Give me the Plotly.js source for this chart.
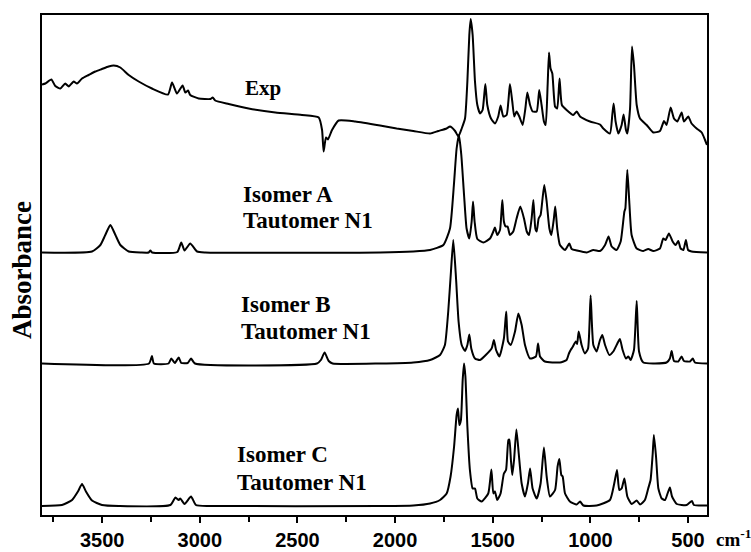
<!DOCTYPE html>
<html>
<head>
<meta charset="utf-8">
<script src="https://cdn.plot.ly/plotly-3.0.1.min.js"></script>
<style>html,body{margin:0;padding:0;background:#fff;}#chart{width:751px;height:552px;}</style>
</head>
<body>
<div id="chart"></div>
<script>
// Wavenumbers (cm-1) and offset absorbance
const expWn = [3808,3791,3760,3740,3714,3689,3671,3646,3629,3603,3569,3535,3501,3467,3441,3407,3364,3313,3245,3163,3142,3117,3088,3074,3060,3049,3006,2946,2934,2921,2852,2750,2613,2477,2391,2374,2366,2354,2344,2323,2289,2204,2077,1992,1907,1821,1779,1736,1719,1693,1676,1659,1642,1630,1620,1613,1603,1591,1579,1565,1552,1538,1528,1509,1489,1472,1460,1446,1429,1412,1400,1390,1378,1364,1347,1333,1323,1309,1296,1275,1262,1250,1238,1229,1219,1212,1204,1195,1181,1170,1158,1146,1122,1088,1070,1053,1002,951,934,900,888,881,871,857,840,830,818,811,797,787,777,763,746,712,678,644,623,610,589,572,555,533,521,499,482,456,430,413,403];
const expAbs = [86.1,86.3,87.1,85.8,85.3,86.3,85.7,86.7,86.3,87.3,88.0,88.7,89.2,89.7,89.9,89.5,88.0,86.7,85.3,84.1,86.5,84.3,85.9,84.5,84.9,84.0,83.3,83.2,83.5,82.9,82.2,81.3,80.5,80.0,79.5,77.0,72.7,75.5,75.1,77.0,78.9,78.7,77.9,77.3,76.8,76.3,76.8,77.3,77.7,76.8,75.7,77.3,79.3,86.7,96.0,99.2,96.0,86.7,82.0,80.3,81.0,86.2,82.0,79.3,78.3,79.7,81.9,79.7,80.0,86.2,82.7,79.7,80.7,79.7,78.0,81.3,84.5,82.0,80.7,80.7,85.0,82.0,78.7,78.0,86.0,92.5,89.3,88.3,81.7,81.3,87.3,82.0,81.0,80.0,80.7,79.7,78.7,78.1,77.3,76.3,80.0,82.3,78.7,76.3,78.0,80.1,77.0,76.3,81.3,93.7,90.0,82.0,79.3,78.0,76.5,76.8,78.8,78.0,81.5,79.3,78.7,80.5,78.7,79.7,78.3,77.3,76.5,75.0,74.0];

const isoAWn = [3808,3552,3509,3484,3458,3432,3407,3364,3300,3262,3253,3244,3115,3095,3078,3049,3014,2972,2077,1907,1821,1753,1719,1699,1685,1673,1661,1647,1634,1620,1608,1601,1593,1579,1548,1514,1497,1489,1477,1463,1451,1443,1434,1424,1412,1395,1378,1359,1340,1326,1314,1301,1292,1282,1275,1265,1255,1245,1236,1224,1210,1200,1187,1180,1170,1156,1130,1108,1096,1070,1019,985,951,925,907,891,866,845,826,821,811,801,789,763,729,704,678,644,627,615,598,579,564,550,538,524,511,500,482,403];
const isoAAbs = [52.5,52.7,54.0,56.0,58.0,56.0,54.0,52.7,52.5,52.5,52.9,52.5,52.6,54.5,52.9,54.3,52.7,52.5,52.5,52.7,53.0,54.0,57.3,66.0,73.3,76.0,72.0,64.0,57.3,55.3,58.7,62.7,58.7,55.2,54.5,55.3,56.7,57.5,56.0,57.0,63.0,58.7,57.7,57.7,56.0,56.7,59.3,61.7,59.3,56.7,56.0,59.3,63.0,57.3,56.7,59.3,60.0,63.3,66.0,62.7,57.3,56.0,59.3,61.7,57.3,54.0,53.0,54.3,53.2,52.9,52.5,53.0,52.8,54.0,55.7,53.7,53.0,54.7,60.7,61.3,69.0,62.7,56.0,53.3,52.8,53.2,52.8,53.3,55.3,55.0,56.3,54.7,54.0,54.8,53.3,53.0,55.0,53.0,52.7,52.5];

const isoBWn = [3808,3260,3245,3235,3160,3146,3128,3108,3095,3062,3045,3025,2400,2380,2361,2340,2320,2077,1907,1821,1770,1745,1728,1714,1702,1688,1675,1659,1642,1630,1620,1610,1591,1565,1506,1494,1483,1466,1443,1431,1422,1408,1386,1369,1352,1335,1309,1279,1268,1258,1233,1156,1122,1110,1101,1091,1075,1068,1060,1045,1028,1012,999,985,968,951,939,925,903,883,862,849,835,818,806,794,777,763,751,729,610,593,584,572,550,533,521,490,476,465,403];
const isoBAbs = [30.3,30.3,31.8,30.3,30.3,31.3,30.4,31.5,30.4,30.4,31.3,30.3,30.3,31.0,32.5,30.8,30.3,30.3,30.5,31.0,32.0,34.0,40.7,48.7,55.0,47.3,38.7,34.0,32.8,34.0,36.1,33.3,31.3,31.0,33.3,35.0,33.0,31.7,35.3,40.7,34.7,34.0,36.7,40.3,38.0,34.0,31.3,31.7,34.3,31.7,30.7,30.5,31.0,32.3,33.0,33.6,34.7,34.2,36.7,34.0,32.3,33.3,43.9,34.0,32.7,35.0,36.0,34.0,32.0,32.7,34.3,35.2,33.0,31.3,31.7,31.0,33.0,42.8,32.7,30.5,30.5,31.3,32.8,30.8,30.7,31.7,30.8,30.7,31.3,30.5,30.3];

const isoCWn = [3808,3706,3654,3624,3603,3583,3552,3501,3415,3151,3125,3108,3100,3078,3045,3020,2950,2077,1907,1821,1770,1736,1716,1698,1685,1678,1671,1663,1654,1647,1640,1630,1617,1603,1591,1579,1557,1523,1507,1497,1489,1477,1460,1443,1432,1420,1415,1407,1400,1391,1379,1367,1352,1335,1320,1309,1296,1275,1255,1238,1224,1207,1181,1168,1159,1149,1142,1130,1105,1070,1053,1036,968,900,878,864,852,840,826,811,789,763,746,721,704,692,681,675,664,652,635,618,605,593,582,558,507,480,470,403];
const isoCAbs = [1.8,2.0,3.0,4.7,6.2,4.7,2.9,2.0,1.8,2.0,3.5,3.0,3.3,2.2,3.7,2.0,1.8,1.8,1.9,2.3,3.0,4.3,7.7,13.7,20.0,21.3,18.0,19.0,27.0,30.3,27.7,17.7,9.0,5.3,5.3,3.3,2.7,4.3,9.1,4.3,4.7,3.0,4.3,8.3,9.0,15.0,15.1,11.0,8.0,11.0,17.1,12.3,6.3,3.7,6.3,9.3,5.3,3.3,6.3,13.5,7.7,3.7,5.0,9.7,11.2,8.0,7.7,4.3,2.7,2.1,2.7,1.9,1.9,3.0,6.3,9.0,5.0,5.3,7.3,3.7,2.2,2.9,2.1,3.0,5.3,7.0,12.3,16.0,11.7,5.3,3.3,3.0,4.3,5.5,3.7,2.2,2.0,2.8,2.0,1.9];

// Spectrum labels, one entry per text line
const labelLines = ["Exp", "Isomer A", "Tautomer N1", "Isomer B", "Tautomer N1", "Isomer C", "Tautomer N1"];
const tickVals = [3500, 3000, 2500, 2000, 1500, 1000, 500];
const tickText = ["3500", "3000", "2500", "2000", "1500", "1000", "500"];

const lineStyle = {color: "#000", width: 2, shape: "spline", smoothing: 0.5};
const traces = [
  {x: expWn, y: expAbs},
  {x: isoAWn, y: isoAAbs},
  {x: isoBWn, y: isoBAbs},
  {x: isoCWn, y: isoCAbs}
].map(t => Object.assign(t, {type: "scatter", mode: "lines", line: lineStyle, showlegend: false, hoverinfo: "skip"}));

const serif = {family: "Liberation Serif, Times New Roman, serif", size: 23, color: "#000", weight: 700};
// placement of each label line (paper coordinates)
const labelPos = [[0.303, 0.854], [0.299, 0.642], [0.299, 0.590], [0.296, 0.421], [0.296, 0.367], [0.290, 0.121], [0.290, 0.065]];

const annotations = labelLines.map((t, i) => ({
  text: t, xref: "paper", yref: "paper", x: labelPos[i][0], y: labelPos[i][1],
  xanchor: "left", yanchor: "middle", showarrow: false,
  font: Object.assign({}, serif, i === 0 ? {size: 21} : {})
}));
annotations.push(
  {text: "Absorbance", xref: "paper", yref: "paper", x: -0.03, y: 0.49, xanchor: "center", yanchor: "middle", textangle: -90, showarrow: false, font: Object.assign({}, serif, {size: 27})},
  {text: "cm<sup>-1</sup>", xref: "paper", yref: "paper", x: 1.011, y: -0.046, xanchor: "left", yanchor: "middle", showarrow: false, font: Object.assign({}, serif, {size: 19})}
);

const layout = {
  width: 751, height: 552,
  margin: {l: 42, r: 44, t: 15, b: 37},
  paper_bgcolor: "#fff", plot_bgcolor: "#fff",
  showlegend: false,
  xaxis: {
    range: [3808, 403], autorange: false,
    tickvals: tickVals, ticktext: tickText,
    ticks: "outside", ticklen: 6, tickwidth: 2, tickcolor: "#000",
    minor: {dtick: 250, tick0: 0, ticks: "outside", ticklen: 5, tickwidth: 2, tickcolor: "#000", showgrid: false},
    showline: true, linecolor: "#000", linewidth: 2, mirror: true,
    showgrid: false, zeroline: false,
    ticklabelstandoff: 0,
    tickfont: {family: "Liberation Sans Narrow, Liberation Sans, Arial, sans-serif", size: 20, color: "#000", weight: 700}
  },
  yaxis: {
    range: [0, 100], autorange: false,
    showticklabels: false, ticks: "",
    showline: true, linecolor: "#000", linewidth: 2, mirror: true,
    showgrid: false, zeroline: false
  },
  annotations: annotations
};

Plotly.newPlot("chart", traces, layout, {staticPlot: true, displayModeBar: false});
</script>
</body>
</html>
